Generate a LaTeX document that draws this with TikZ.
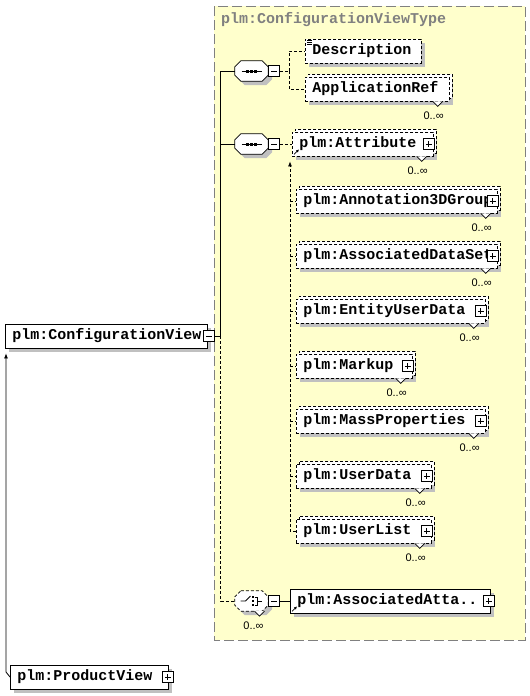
\documentclass[tikz,border=0pt]{standalone}
\usepackage{fontspec}
\setmonofont{Liberation Mono}
\newfontfamily\multfont{Liberation Sans}
\usepackage{tikz}
\usetikzlibrary{positioning, calc, arrows.meta, shadows}
\definecolor{typefill}{RGB}{255,255,204}
\definecolor{typeline}{RGB}{128,128,128}
\definecolor{shadowgray}{RGB}{192,192,192}
\newcommand\octpath[1]{([xshift=6pt]#1.north west) -- ([xshift=-6pt]#1.north east) -- ([yshift=-6pt]#1.north east)
  -- ([yshift=6pt]#1.south east) -- ([xshift=-6pt]#1.south east) -- ([xshift=6pt]#1.south west)
  -- ([yshift=6pt]#1.south west) -- ([yshift=-6pt]#1.north west) -- cycle}
\tikzset{link/.style={line width=0.8pt}}
\tikzset{opt/.style={dash pattern=on 3pt off 2pt}}
\tikzset{shade/.style={drop shadow={shadow xshift=4pt, shadow yshift=-4pt, fill=shadowgray, opacity=1}}}
\tikzset{elem/.style={draw, fill=white, line width=0.8pt, shade, minimum height=24, inner xsep=7pt, inner ysep=0pt, align=left, anchor=west, font=\ttfamily\bfseries\fontsize{15}{17}\selectfont}}
\tikzset{multi/.style={general shadow={shadow xshift=3pt, shadow yshift=3pt, draw, fill=white, opt}, opt}}
\tikzset{mult/.style={inner sep=0pt, font=\multfont\fontsize{11}{11}\selectfont}}
\tikzset{xpand/.style={draw, fill=white, line width=0.8pt, minimum size=11, inner sep=0pt}}
\tikzset{minusbox/.style={xpand, path picture={\draw ([xshift=2.5pt]path picture bounding box.west) -- ([xshift=-2.5pt]path picture bounding box.east);}}}
\tikzset{plusbox/.style={xpand, path picture={\draw ([xshift=2.5pt]path picture bounding box.west) -- ([xshift=-2.5pt]path picture bounding box.east);
      \draw ([yshift=-2.5pt]path picture bounding box.north) -- ([yshift=2.5pt]path picture bounding box.south);}}}
\tikzset{compositor/.style={minimum width=33, minimum height=20, inner sep=0pt}}
\tikzset{refmark/.style={-{Latex[length=3pt,width=3pt]}, line width=0.7pt}}

\begin{document}
\begin{tikzpicture}[x=1pt, y=-1pt]
  \useasboundingbox (0,0) rectangle (530,696);

  % TYPE AREA

  \draw[fill=typefill, draw=typeline, line width=1pt, dash pattern=on 10pt off 4pt] (214,6) rectangle (525,640);
  \node[anchor=west, inner sep=0pt, text=typeline, font=\ttfamily\bfseries\fontsize{15}{17}\selectfont] (tname) at (221,20) {plm:ConfigurationViewType};

  % COMPOSITORS

  \node[compositor] (seq1) at (251.5,71) {};
  \node[compositor] (seq2) at (251.5,144) {};
  \node[compositor] (choice) at (251.5,601) {};
  \foreach \c/\sty in {seq1/solid, seq2/solid, choice/opt} {
    \fill[shadowgray, transform canvas={xshift=4pt, yshift=-4pt}] \octpath{\c};
    \draw[fill=white, line width=0.8pt, \sty] \octpath{\c};
  }
  \foreach \c in {seq1, seq2} {
    \draw[line width=1pt] ($(\c.center)+(-10,0)$) -- ($(\c.center)+(10,0)$);
    \foreach \d in {-4,0,4} \fill ($(\c.center)+(\d-1.5,-1.5)$) rectangle ++(3,3);
  }
  \draw[line width=0.8pt] ($(choice.center)+(-11,0)$) -- ++(5,0) -- ++(5,-5);
  \foreach \d in {-4,0,4} \fill ($(choice.center)+(0,\d-1)$) rectangle ++(2,2);
  \draw[line width=0.8pt] ($(choice.center)+(3,-4)$) -- ++(3,0) -- ++(0,8) -- ++(-3,0);
  \draw[line width=0.8pt] ($(choice.center)+(6,0)$) -- ++(4,0);
  \node[minusbox, anchor=west] (sxp1) at (seq1.east) {};
  \node[minusbox, anchor=west] (sxp2) at (seq2.east) {};
  \node[minusbox, anchor=west] (chxp) at (choice.east) {};

  % ELEMENTS

  \node[elem, text width=188] (cview) at (5,336) {plm:ConfigurationView};
  \node[elem, opt, text width=102] (desc) at (305,51) {Description};
  \node[elem, multi, text width=130] (appref) at (305,89) {ApplicationRef};
  \node[elem, multi, text width=127] (attr) at (292,144) {plm:Attribute};
  \node[elem, multi, text width=187] (ann3d) at (296,201) {plm:Annotation3DGroup};
  \node[elem, multi, text width=187] (assocds) at (296,256) {plm:AssociatedDataSet};
  \node[elem, multi, text width=175] (entity) at (296,311) {plm:EntityUserData};
  \node[elem, multi, text width=102] (markup) at (296,366) {plm:Markup};
  \node[elem, multi, text width=175] (mass) at (296,421) {plm:MassProperties};
  \node[elem, multi, text width=121] (userdata) at (296,476) {plm:UserData};
  \node[elem, multi, text width=121] (userlist) at (296,531) {plm:UserList};
  \node[elem, text width=186] (assocatt) at (290,601) {plm:AssociatedAtta..};
  \node[elem, text width=144] (pview) at (10,677) {plm:ProductView};

  % EXPAND BOXES

  \node[minusbox] (cxp) at ([xshift=1pt]cview.east) {};
  \node[plusbox] (pvxp) at ([xshift=-1pt]pview.east) {};
  \node[plusbox] (aaxp) at ([xshift=-2pt]assocatt.east) {};
  \foreach \e in {attr, ann3d, assocds, entity, markup, mass, userdata, userlist}
    \node[plusbox] (\e-xp) at ([xshift=-5pt]\e.east) {};

  % MARKS AND OCCURRENCES

  \foreach \d in {1.5,3.5,5.5}
    \draw[line width=0.6pt] ([shift={(2pt,-\d pt)}]desc.north west) -- ++(5,0);
  \draw[refmark] ([shift={(2pt,2pt)}]attr.south west) -- ++(5,-5);
  \draw[refmark] ([shift={(2pt,2pt)}]assocatt.south west) -- ++(5,-5);
  \foreach \e in {appref, attr, ann3d, assocds, entity, markup, mass, userdata, userlist} {
    \filldraw[fill=white, line width=0.7pt] ([xshift=-17pt]\e.south east) -- ++(5,5) -- ++(5,-5);
    \node[mult, anchor=north east] (\e-m) at ([shift={(-6pt,-10pt)}]\e.south east) {0..∞};
  }
  \filldraw[fill=white, line width=0.7pt] ([xshift=3pt]choice.south) -- ++(5,5) -- ++(5,-5);
  \node[mult, anchor=north] (choice-m) at ([shift={(2pt,-10pt)}]choice.south) {0..∞};

  % CONNECTORS

  \draw[link] (cxp.east) -| ([xshift=-14pt]seq1.west) -- (seq1.west);
  \draw[link] ([xshift=-14pt]seq2.west) -- (seq2.west);
  \draw[link, opt] ([xshift=-14pt]seq1.west |- cxp.east) |- (choice.west);
  \draw[link, opt] (sxp1.east) -- ++(9,0) coordinate (fork1);
  \draw[link, opt] (fork1) |- (desc.west);
  \draw[link, opt] (fork1) |- (appref.west);
  \draw[link, opt] (sxp2.east) -- (attr.west);
  \draw[link, opt, -{Latex[length=5pt,width=4pt]}] (userlist.west) -- ++(-6,0) coordinate (subst) -- ([yshift=-5pt]subst |- attr.south);
  \foreach \e in {ann3d, assocds, entity, markup, mass, userdata}
    \draw[link, opt] (\e.west -| subst) -- (\e.west);
  \draw[link] (chxp.east) -- (assocatt.west);
  \draw[link, -{Latex[length=5pt,width=4pt]}] (pview.west) -- ++(-4,-5) coordinate (pvbend) -- ([yshift=-5pt]pvbend |- cview.south);

\end{tikzpicture}
\end{document}
